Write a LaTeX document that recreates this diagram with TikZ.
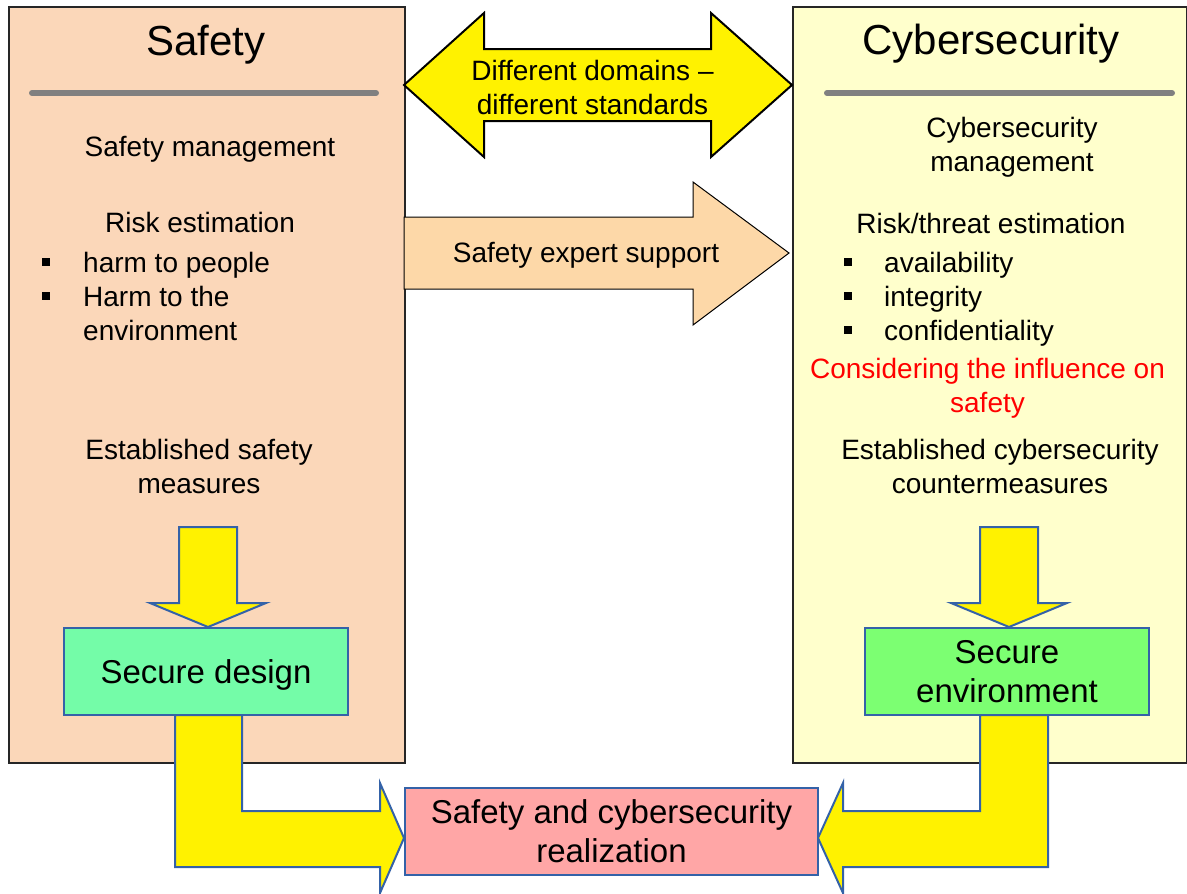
\documentclass[tikz,border=0pt]{standalone}
\usepackage{fontspec}
\setmainfont{Liberation Sans}
\definecolor{peach}{RGB}{251,215,185}
\definecolor{paleyellow}{RGB}{255,255,204}
\definecolor{orangearr}{RGB}{253,216,168}
\definecolor{arrblue}{RGB}{52,98,168}
\definecolor{mint}{RGB}{116,252,168}
\definecolor{brightgreen}{RGB}{124,255,114}
\definecolor{pinkbox}{RGB}{255,166,166}
\definecolor{sepgray}{RGB}{128,128,128}
\begin{document}
\begin{tikzpicture}[x=1pt,y=-1pt,
  panel/.style={draw=black!85,line width=1.5pt,inner sep=0pt,anchor=north west},
  blk/.style={draw=arrblue,line width=2pt,line join=miter},
  boxnode/.style={draw=arrblue,line width=2pt,inner sep=0pt,align=center},
  sepline/.style={draw=sepgray,line width=6pt,line cap=round},
  txt/.style={inner sep=0pt,anchor=base,align=center},
  ltxt/.style={inner sep=0pt,anchor=base west,align=left},
  bigfont/.style={font=\fontsize{42}{50}\selectfont},
  midfont/.style={font=\fontsize{28}{34}\selectfont},
  boxfont/.style={font=\fontsize{33}{39}\selectfont},
  bul/.style={fill=black,minimum size=8pt,inner sep=0pt}
]
\useasboundingbox (0,0) rectangle (1187,894);

% panels
\node[panel,fill=peach,minimum width=396pt,minimum height=756pt] (lp) at (8,6) {};
\node[panel,fill=paleyellow,minimum width=394pt,minimum height=756pt] (rp) at (792,6) {};

% separator lines
\draw[sepline] (32,93) -- (376,93);
\draw[sepline] (827,93) -- (1172,93);

% titles
\node[txt,bigfont] (lt) at (206,55) {Safety};
\node[txt,bigfont] (rt) at (991,54) {Cybersecurity};

% left texts
\node[txt,midfont] (sm) at (210,156) {Safety management};
\node[txt,midfont] (re) at (200,232) {Risk estimation};
\node[bul] (lb1) at (45.5,262) {};
\node[bul] (lb2) at (45.5,296) {};
\node[ltxt,midfont] (li1) at (83,272) {harm to people};
\node[ltxt,midfont] (li2) at (83,340) {Harm to the\\environment};
\node[txt,midfont] (esm) at (199,493) {Established safety\\measures};

% right texts
\node[txt,midfont] (cm) at (1012,171) {Cybersecurity\\management};
\node[txt,midfont] (rte) at (991,233) {Risk/threat estimation};
\node[bul] (rb1) at (848,262) {};
\node[bul] (rb2) at (848,296) {};
\node[bul] (rb3) at (848,330) {};
\node[ltxt,midfont] (ri1) at (884,272) {availability};
\node[ltxt,midfont] (ri2) at (884,306) {integrity};
\node[ltxt,midfont] (ri3) at (884,340) {confidentiality};
\node[txt,midfont,text=red] (cis) at (987.5,412) {Considering the influence on\\safety};
\node[txt,midfont] (ecc) at (1000,493) {Established cybersecurity\\countermeasures};

% double arrow
\draw[fill=yellow,draw=black,line width=2pt,line join=miter]
  (404,85) -- (484,13) -- (484,49) -- (711,49) -- (711,13) -- (792,85)
  -- (711,157) -- (711,121) -- (484,121) -- (484,157) -- cycle;
\node[txt,midfont] (dd) at (592.5,114) {Different domains --\\different standards};

% safety expert support arrow
\draw[fill=orangearr,draw=black,line width=1pt,line join=miter]
  (404,217) -- (693,217) -- (693,182) -- (789,253) -- (693,325) -- (693,289) -- (404,289) -- cycle;
\node[txt,midfont] (ses) at (586,262) {Safety expert support};

% down arrows
\draw[blk,fill=yellow] (179,527) -- (237,527) -- (237,603) -- (266,603) -- (208,627)
  -- (150,603) -- (179,603) -- cycle;
\draw[blk,fill=yellow] (980,527) -- (1038,527) -- (1038,603) -- (1067,603) -- (1009,627)
  -- (951,603) -- (980,603) -- cycle;

% bent arrows
\draw[blk,fill=yellow] (175,715) -- (242,715) -- (242,811) -- (380,811) -- (380,783)
  -- (404,838) -- (380,893) -- (380,867) -- (175,867) -- cycle;
\draw[blk,fill=yellow] (1048,715) -- (980,715) -- (980,811) -- (843,811) -- (843,783)
  -- (818,838) -- (843,893) -- (843,867) -- (1048,867) -- cycle;

% boxes
\node[boxnode,boxfont,fill=mint,minimum width=284pt,minimum height=87pt,text height=26pt,text depth=3pt] (sd) at (206,671.5) {Secure design};
\node[boxnode,boxfont,fill=brightgreen,minimum width=284pt,minimum height=87pt] (se) at (1007,671.5) {Secure\\environment};
\node[boxnode,boxfont,fill=pinkbox,minimum width=413pt,minimum height=87pt] (scr) at (611.5,831.5) {Safety and cybersecurity\\realization};
\end{tikzpicture}
\end{document}
